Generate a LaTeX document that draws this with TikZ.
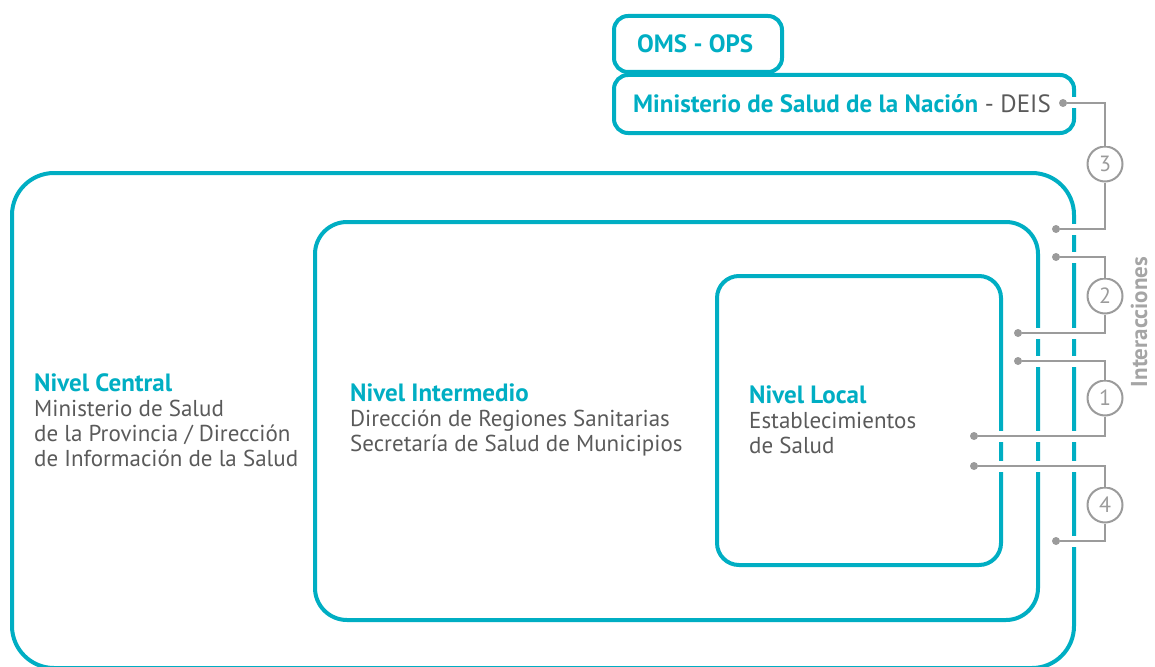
\documentclass[tikz,border=0pt]{standalone}
\usepackage{fontspec}
\setmainfont{PT Sans}
\usetikzlibrary{positioning}

\definecolor{celeste}{HTML}{00AEC3}
\definecolor{gristexto}{HTML}{5A5A5A}
\definecolor{grislinea}{HTML}{9B9B9B}

\tikzset{
    nivel/.style={draw=celeste, line width=4, rounded corners=#1},
    texto/.style={anchor=west, inner sep=0, align=left, text=gristexto, font=\fontsize{23}{25}\selectfont},
    arriba/.style={texto, font=\fontsize{25}{25}\selectfont},
    punto/.style={circle, fill=grislinea, inner sep=0, minimum size=8},
    numero/.style={circle, draw=grislinea, line width=2, minimum size=35, inner sep=0, text=grislinea, font=\fontsize{22}{22}\selectfont},
    enlace/.style={draw=grislinea, line width=2, preaction={draw=white, line width=11}}
}
\newcommand{\titulo}[1]{{\fontsize{25}{25}\selectfont\textbf{\color{celeste}#1}}}

\begin{document}
\begin{tikzpicture}[x=1pt, y=-1pt]
    \useasboundingbox (0,0) rectangle (1155,666);
    % niveles
    \draw[nivel=42] (12,173) rectangle (1074,668);
    \draw[nivel=32] (315,222) rectangle (1038,620);
    \draw[nivel=22] (717,276) rectangle (1001,565);
    \draw[nivel=14] (614,16) rectangle (782,72);
    \draw[nivel=14] (614,75) rectangle (1074,133);

    \node[arriba] (oms) at (637,44) {\textbf{\color{celeste}OMS - OPS}};
    \node[arriba] (nacion) at (633,104) {\textbf{\color{celeste}Ministerio de Salud de la Nación} - DEIS};
    \node[texto] (central) at (34,420) {\titulo{Nivel Central}\\Ministerio de Salud\\de la Provincia / Dirección\\de Información de la Salud};
    \node[texto] (intermedio) at (350,420) {\titulo{Nivel Intermedio}\\Dirección de Regiones Sanitarias\\Secretaría de Salud de Municipios};
    \node[texto] (local) at (749,420) {\titulo{Nivel Local}\\Establecimientos\\de Salud};

    % interacciones
    \node[punto] (p3a) at (1063,103) {};
    \node[punto] (p3b) at (1056,229) {};
    \node[punto] (p2a) at (1056,257) {};
    \node[punto] (p2b) at (1018,333) {};
    \node[punto] (p1a) at (1018,361) {};
    \node[punto] (p1b) at (974,436) {};
    \node[punto] (p4a) at (974,466) {};
    \node[punto] (p4b) at (1056,541) {};
    \node[numero] (n3) at (1105,164) {3};
    \node[numero] (n2) at (1105,296) {2};
    \node[numero] (n1) at (1105,398) {1};
    \node[numero] (n4) at (1105,505) {4};

    \draw[enlace] (p3a) -| (n3);
    \draw[enlace] (n3) |- (p3b);
    \draw[enlace] (p2a) -| (n2);
    \draw[enlace] (n2) |- (p2b);
    \draw[enlace] (p1a) -| (n1);
    \draw[enlace] (n1) |- (p1b);
    \draw[enlace] (p4a) -| (n4);
    \draw[enlace] (n4) |- (p4b);

    \node[rotate=90, inner sep=0, text=grislinea!90, font=\bfseries\fontsize{23}{23}\selectfont] (inter) at (1139,322) {Interacciones};
\end{tikzpicture}
\end{document}
